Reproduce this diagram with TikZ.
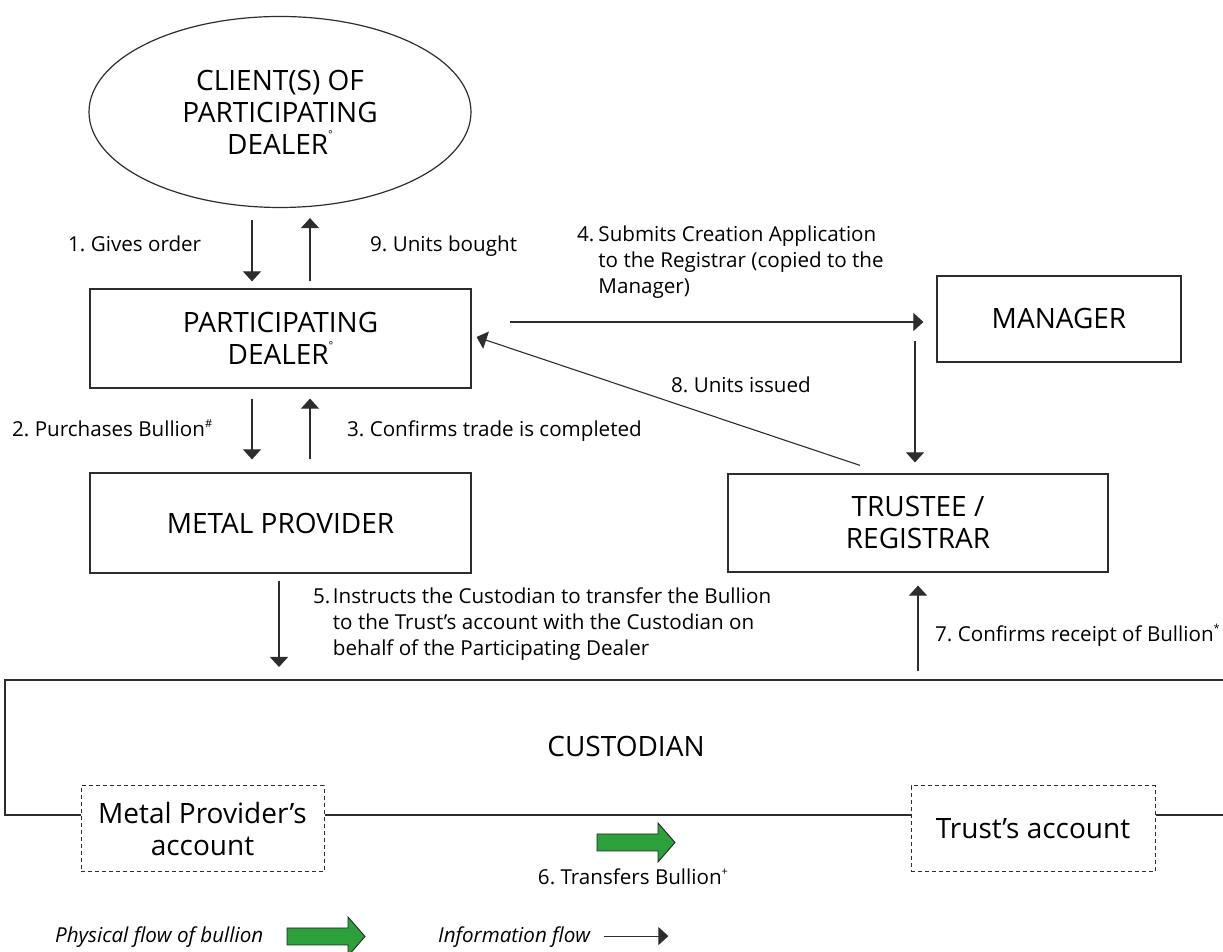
\documentclass[tikz,border=0pt]{standalone}
\usepackage{fontspec}
\setmainfont{Open Sans}
\usepackage{tikz}
\usetikzlibrary{arrows.meta,shapes.geometric,calc,positioning}
\definecolor{boxline}{RGB}{45,45,45}
\definecolor{bulliongreen}{RGB}{44,160,58}
\newcommand{\supmark}[2]{\raisebox{#1}{\fontsize{11}{11}\selectfont #2}}
\frenchspacing

\begin{document}
\begin{tikzpicture}[x=1pt, y=1pt, >={Triangle[width=18pt,length=10pt]},
    box/.style={draw=boxline, line width=1.2pt, inner sep=0pt, align=center,
      font=\fontsize{28}{32}\selectfont},
    account/.style={box, dash pattern=on 4pt off 3pt, line width=1pt},
    info/.style={->, line width=1.1pt, draw=boxline},
    flowtext/.style={inner sep=0pt, anchor=base west, font=\fontsize{20.6}{26}\selectfont},
    legendtext/.style={flowtext, font=\fontsize{20.6}{26}\selectfont\itshape},
    pics/bullion/.style={code={
      \filldraw[draw=black!85, line width=0.9pt, fill=bulliongreen]
        (0,-8.5) -- (61,-8.5) -- (61,-19.5) -- (78,0) -- (61,19.5) -- (61,8.5) -- (0,8.5) -- cycle;}}]
  \useasboundingbox (0,0) rectangle (1223,952);

  % Parties
  \node[box, ellipse, minimum width=382pt, minimum height=191pt] (client) at (280,840)
    {CLIENT(S) OF\\PARTICIPATING\\DEALER\supmark{0.55em}{°}};
  \node[box, minimum width=381pt, minimum height=99pt] (dealer) at (280.5,613.5)
    {PARTICIPATING\\DEALER\supmark{0.55em}{°}};
  \node[box, minimum width=381pt, minimum height=100pt] (metal) at (280.5,429) {METAL PROVIDER};
  \node[box, minimum width=244pt, minimum height=86pt] (manager) at (1059,633) {MANAGER};
  \node[box, minimum width=380pt, minimum height=98pt] (trustee) at (918,429) {TRUSTEE /\\REGISTRAR};

  % Custodian (open to the right)
  \coordinate (custtop) at (5,272);
  \coordinate (custbot) at (5,137);
  \node[account, minimum width=243pt, minimum height=86pt] (mpacc) at (202.5,123)
    {Metal Provider’s\\account};
  \node[account, minimum width=244pt, minimum height=86pt] (tracc) at (1033,123) {Trust’s account};
  \draw[boxline, line width=1.3pt] (1230,272) -- (custtop) -- (custbot) -- (custbot -| mpacc.west);
  \draw[boxline, line width=1.3pt] (custbot -| mpacc.east) -- (custbot -| tracc.west);
  \draw[boxline, line width=1.3pt] (custbot -| tracc.east) -- (1230,137);
  \node[font=\fontsize{28}{32}\selectfont, inner sep=0pt] (custodian) at (626,206) {CUSTODIAN};

  % Information flow
  \draw[info] ($(client.south)+(-28,-12)$) -- ($(dealer.north)+(-28.5,7)$);
  \draw[info] ($(dealer.north)+(29.5,7)$) -- ($(client.south)+(30,-10)$);
  \draw[info] ($(dealer.south)+(-28.5,-10)$) -- ($(metal.north)+(-28.5,13)$);
  \draw[info] ($(metal.north)+(29.5,13)$) -- ($(dealer.south)+(29.5,-10)$);
  \draw[info] ($(dealer.east |- manager.west)+(38,-3)$) -- ($(manager.west)+(-13,-3)$);
  \draw[info] ($(trustee.north |- manager.west)+(-3,-22)$) -- ($(trustee.north)+(-3,11)$);
  \draw[info] ($(trustee.north)+(-58,8)$) -- ($(dealer.east)+(5,1.5)$);
  \draw[info] ($(metal.south)+(-1.5,-7)$) -- ($(metal.south |- custtop)+(-1.5,13)$);
  \draw[info] ($(trustee.south |- custtop)+(0,9)$) -- ($(trustee.south)+(0,-13)$);

  % Step labels
  \node[flowtext] (lbl1) at (68,700) {1. Gives order};
  \node[flowtext] (lbl9) at (370,700) {9. Units bought};
  \node[flowtext] (lbl2) at (12,515) {2. Purchases Bullion\supmark{0.45em}{\#}};
  \node[flowtext] (lbl3) at (347,515) {3. Confirms trade is completed};
  \node[flowtext] (lbl4) at (577,710)
    {\begin{tabular}[t]{@{}l@{\hspace{4pt}}l@{}}4. & Submits Creation Application\\
      & to the Registrar (copied to the\\ & Manager)\end{tabular}};
  \node[flowtext] (lbl5) at (313,348.5)
    {\begin{tabular}[t]{@{}l@{\hspace{2.5pt}}l@{}}5. & Instructs the Custodian to transfer the Bullion\\
      & to the Trust’s account with the Custodian on\\
      & behalf of the Participating Dealer\end{tabular}};
  \node[flowtext] (lbl7) at (935,310) {7. Confirms receipt of Bullion\supmark{0.45em}{*}};
  \node[flowtext] (lbl8) at (671,559) {8. Units issued};

  % Physical flow
  \pic (transfer) at (597,109.5) {bullion};
  \node[flowtext, anchor=base] (lbl6) at (633,67) {6. Transfers Bullion\supmark{0.45em}{+}};

  % Legend
  \node[legendtext] (legphys) at (55,9) {Physical flow of bullion};
  \pic (legarrow) at (287,15.5) {bullion};
  \node[legendtext] (leginfo) at (438,9) {Information flow};
  \draw[info] ($(leginfo.east)+(14,1.5)$) -- ($(leginfo.east)+(78,1.5)$);
\end{tikzpicture}
\end{document}
